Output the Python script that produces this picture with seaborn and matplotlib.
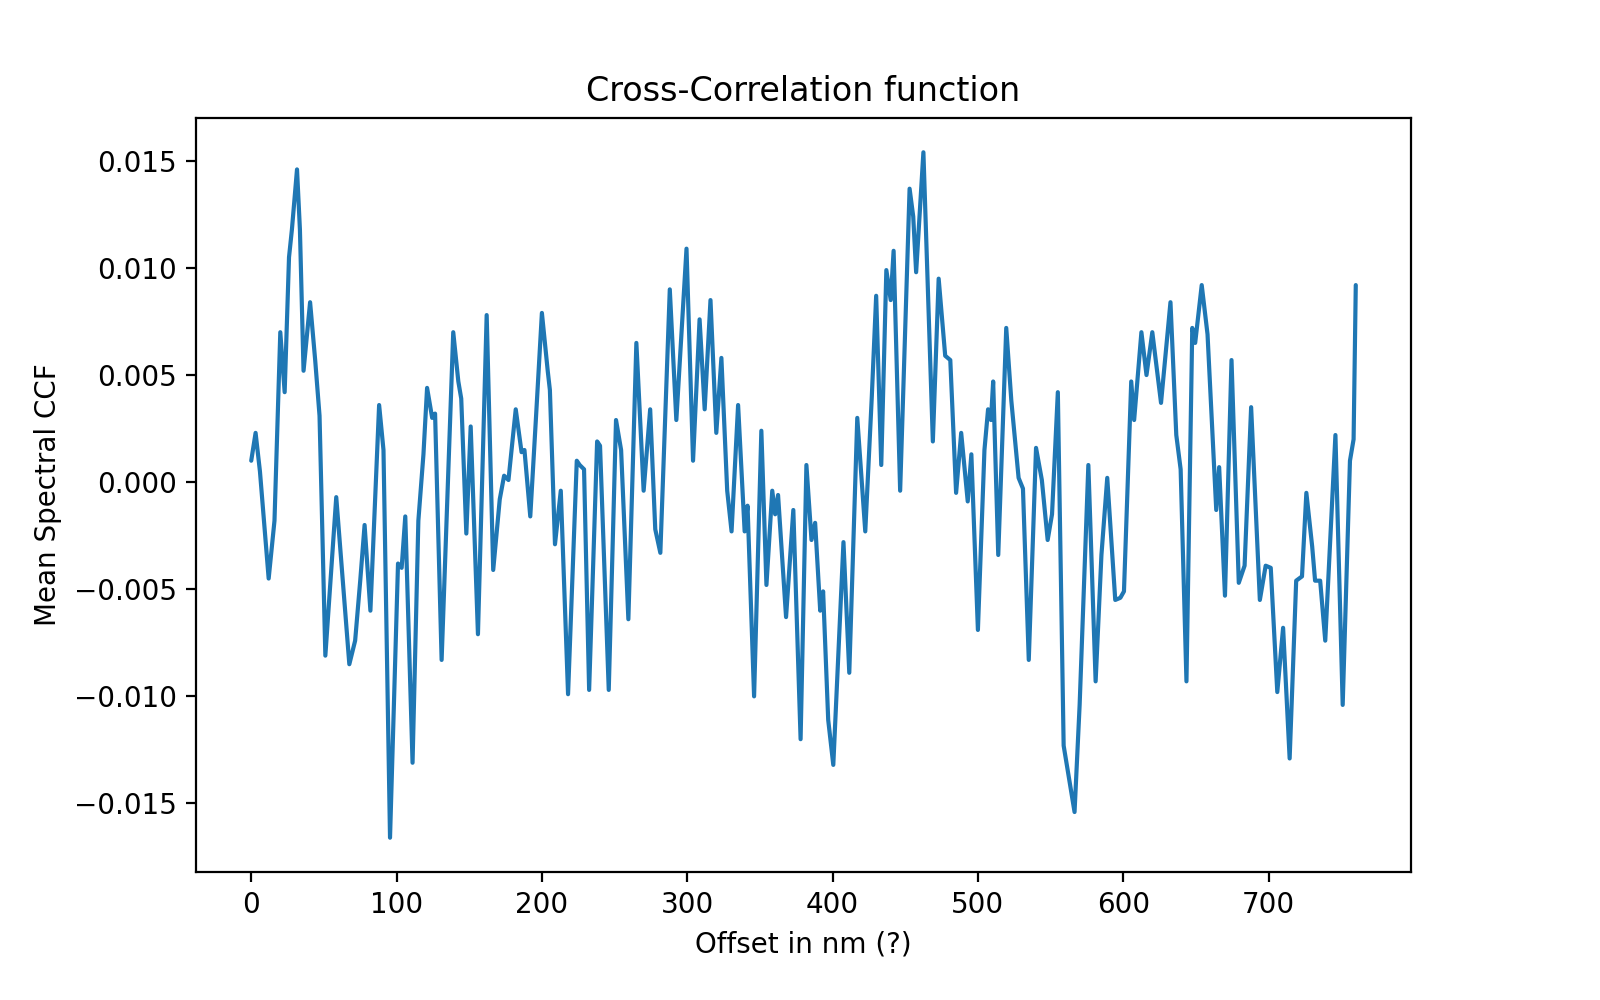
import numpy as np
import pandas as pd
import matplotlib
matplotlib.use("Agg")
import matplotlib.pyplot as plt
import seaborn as sns

# offsets (nm) and mean spectral CCF values
offset_nm = [
    0, 3, 6, 12, 16, 20, 23, 26, 28, 31.5, 33.5, 36, 40.5, 44, 47, 51, 58.5, 67.5, 71.5, 75,
    78, 82, 88, 91, 95.5, 101, 103.5, 106, 111, 115, 118.5, 121, 124.5, 126.5, 131, 139, 142.5, 144.5,
    148, 151, 156, 162, 166.5, 171, 174, 177, 182, 186, 188, 192, 196, 200, 204, 205.5,
    209, 213, 218, 224, 226, 229, 232.5, 238, 240, 246, 251, 254.5, 259.5, 265, 270, 274.5,
    278, 281.5, 288, 292.5, 299.5, 304, 308.5, 312, 316, 320, 323.5, 327.5, 330.5, 335, 339.5,
    341.5, 346, 351, 354.5, 358.5, 360.5, 362.5, 368, 373, 378, 382, 385.5, 388, 391.5, 393.5,
    397, 400.5, 407.5, 411.5, 417, 422.5, 427, 430, 433.5, 437, 440, 442, 446.5, 453, 455.5,
    457.5, 462.5, 469, 473, 477.5, 481, 485, 488.5, 493, 495.5, 500, 504.5, 507, 509, 510.5,
    514, 519.5, 523, 528, 531, 535, 540, 544, 548, 551, 555, 559, 566.5, 570, 576, 581,
    585, 589, 594.5, 598, 600.5, 605.5, 607.5, 612.5, 616, 620, 626, 632.5, 636.5, 639.5,
    643.5, 647.5, 649.5, 654, 658, 664, 666, 670, 674.5, 679.5, 683.5, 688, 694, 698, 701.5,
    706, 710, 714.5, 719, 723, 726, 730, 732, 735.5, 739, 746, 751, 756, 758.5, 760,
]
mean_ccf = [
    0.0010, 0.0023, 0.0005, -0.0045, -0.0018, 0.0070, 0.0042, 0.0105, 0.0118, 0.0146, 0.0118, 0.0052, 0.0084, 0.0057, 0.0031, -0.0081, -0.0007, -0.0085, -0.0074, -0.0046,
    -0.0020, -0.0060, 0.0036, 0.0015, -0.0166, -0.0038, -0.0040, -0.0016, -0.0131, -0.0018, 0.0013, 0.0044, 0.0030, 0.0032, -0.0083, 0.0070, 0.0047, 0.0039,
    -0.0024, 0.0026, -0.0071, 0.0078, -0.0041, -0.0008, 0.0003, 0.0001, 0.0034, 0.0014, 0.0015, -0.0016, 0.0031, 0.0079, 0.0052, 0.0043,
    -0.0029, -0.0004, -0.0099, 0.0010, 0.0008, 0.0006, -0.0097, 0.0019, 0.0017, -0.0097, 0.0029, 0.0015, -0.0064, 0.0065, -0.0004, 0.0034,
    -0.0022, -0.0033, 0.0090, 0.0029, 0.0109, 0.0010, 0.0076, 0.0034, 0.0085, 0.0023, 0.0058, -0.0004, -0.0023, 0.0036, -0.0023,
    -0.0011, -0.0100, 0.0024, -0.0048, -0.0004, -0.0015, -0.0006, -0.0063, -0.0013, -0.0120, 0.0008, -0.0027, -0.0019, -0.0060, -0.0051,
    -0.0111, -0.0132, -0.0028, -0.0089, 0.0030, -0.0023, 0.0040, 0.0087, 0.0008, 0.0099, 0.0085, 0.0108, -0.0004, 0.0137, 0.0124,
    0.0098, 0.0154, 0.0019, 0.0095, 0.0059, 0.0057, -0.0005, 0.0023, -0.0009, 0.0013, -0.0069, 0.0015, 0.0034, 0.0029, 0.0047,
    -0.0034, 0.0072, 0.0038, 0.0002, -0.0003, -0.0083, 0.0016, 0.0001, -0.0027, -0.0015, 0.0042, -0.0123, -0.0154, -0.0104, 0.0008, -0.0093,
    -0.0034, 0.0002, -0.0055, -0.0054, -0.0051, 0.0047, 0.0029, 0.0070, 0.0050, 0.0070, 0.0037, 0.0084, 0.0022, 0.0006,
    -0.0093, 0.0072, 0.0065, 0.0092, 0.0069, -0.0013, 0.0007, -0.0053, 0.0057, -0.0047, -0.0039, 0.0035, -0.0055, -0.0039, -0.0040,
    -0.0098, -0.0068, -0.0129, -0.0046, -0.0044, -0.0005, -0.0030, -0.0046, -0.0046, -0.0074, 0.0022, -0.0104, 0.0010, 0.0020, 0.0092,
]

df = pd.DataFrame({"offset": offset_nm, "ccf": mean_ccf})

fig = plt.figure(figsize=(8, 5), dpi=200)
ax = fig.add_axes([196 / 1600, 1 - 872 / 1000, (1411 - 196) / 1600, (872 - 118) / 1000])

sns.lineplot(data=df, x="offset", y="ccf", ax=ax, color="#1f77b4", linewidth=1.5,
             solid_joinstyle="round", solid_capstyle="round")

ax.set_title("Cross-Correlation function")
ax.set_xlabel("Offset in nm (?)")
ax.set_ylabel("Mean Spectral CCF")
ax.set_xticks([0, 100, 200, 300, 400, 500, 600, 700])

fig.savefig("out.png", dpi=200)
